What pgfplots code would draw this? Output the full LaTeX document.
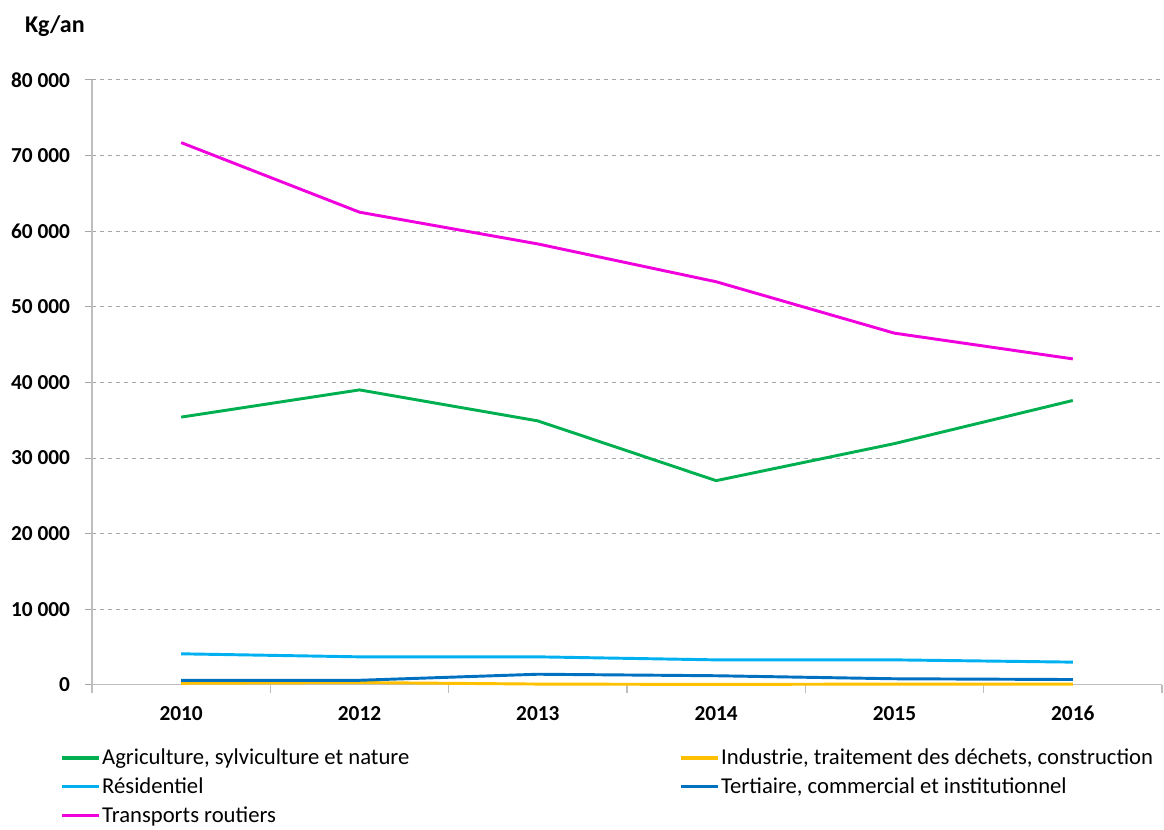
\documentclass[border=0pt]{standalone}
\usepackage{fontspec}
\setmainfont{Carlito}
\usepackage{pgfplots}
\pgfplotsset{compat=1.18}

\definecolor{cAgri}{RGB}{0,176,80}
\definecolor{cIndu}{RGB}{255,192,0}
\definecolor{cResi}{RGB}{0,176,240}
\definecolor{cTert}{RGB}{0,112,192}
\definecolor{cTran}{RGB}{240,0,220}
\definecolor{cAxis}{RGB}{190,190,190}

\begin{document}
\begin{tikzpicture}[x=0.75pt,y=0.75pt]
\begin{axis}[
  scale only axis,
  width=802.5pt, height=453.75pt,
  xmin=-0.5, xmax=5.5,
  ymin=0, ymax=80000,
  axis x line*=bottom, axis y line*=left,
  axis line style={cAxis, line width=1pt},
  xtick={0,1,2,3,4,5},
  xticklabels={2010,2012,2013,2014,2015,2016},
  major x tick style={draw=none},
  minor xtick={-0.5,0.5,1.5,2.5,3.5,4.5,5.5},
  minor x tick style={cAxis, line width=1pt},
  minor tick length=6pt,
  tick align=outside,
  ytick={0,10000,...,80000},
  ymajorgrids,
  major grid style={gray!70, dashed, line width=0.6pt},
  major y tick style={gray!70, line width=0.6pt},
  major tick length=5pt,
  scaled y ticks=false,
  /pgf/number format/.cd, assume math mode=true, 1000 sep={\ }, fixed,
  /pgfplots/.cd,
  ticklabel style={font=\fontsize{16}{18}\selectfont\bfseries},
  xticklabel style={yshift=-7pt, text height=11pt, text depth=0pt},
  yticklabel style={xshift=-8pt},
  legend columns=2,
  legend cell align=left,
  legend style={
    at={(axis description cs:-0.0336,-0.097)}, anchor=north west,
    draw=none, fill=none,
    font=\fontsize{17}{19}\selectfont,
    nodes={inner xsep=1pt},
    row sep=4.3pt,
    /tikz/column 2/.style={column sep=201.5pt},
  },
  legend image code/.code={\draw[#1, line width=2.4pt] (0pt,0pt) -- (28pt,0pt);},
  every axis plot/.append style={line width=2.2pt, line join=round},
  clip=false,
]
\addplot[cAgri] coordinates {(0,35400) (1,39000) (2,34900) (3,27000) (4,31900) (5,37600)};
\addlegendentry{Agriculture, sylviculture et nature}
\addplot[cIndu] coordinates {(0,200) (1,300) (2,100) (3,50) (4,100) (5,100)};
\addlegendentry{Industrie, traitement des déchets, construction}
\addplot[cResi] coordinates {(0,4100) (1,3700) (2,3700) (3,3300) (4,3300) (5,3000)};
\addlegendentry{Résidentiel}
\addplot[cTert] coordinates {(0,600) (1,600) (2,1400) (3,1200) (4,800) (5,700)};
\addlegendentry{Tertiaire, commercial et institutionnel}
\addplot[cTran] coordinates {(0,71700) (1,62500) (2,58300) (3,53300) (4,46500) (5,43100)};
\addlegendentry{Transports routiers}
\node[anchor=west, font=\fontsize{18}{20}\selectfont\bfseries]
  at (axis description cs:-0.067,1.088) {Kg/an};
% page margins around the plot
\path (axis description cs:-0.086,1.132) (axis description cs:1.0019,-0.233);
\end{axis}
\end{tikzpicture}
\end{document}
